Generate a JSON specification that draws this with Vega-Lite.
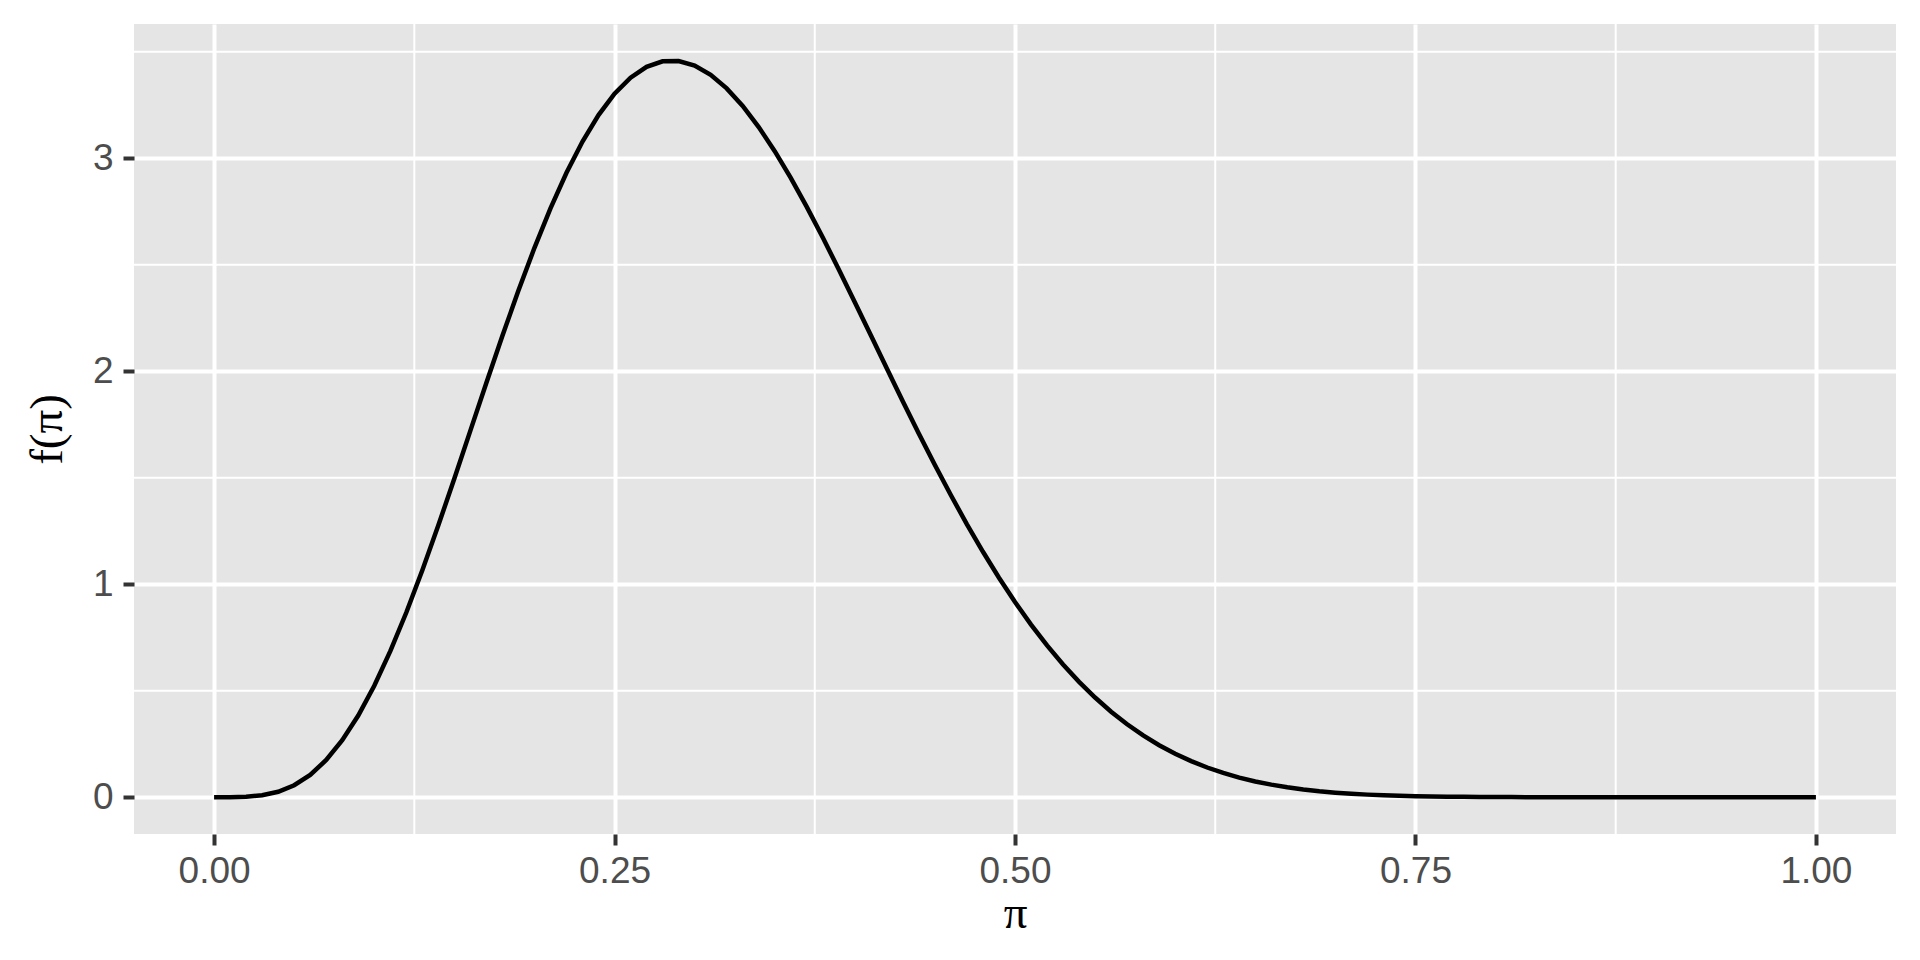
{
  "$schema": "https://vega.github.io/schema/vega-lite/v6.json",
  "width": 1762,
  "height": 810,
  "autosize": "none",
  "padding": {"left": 134, "top": 24, "right": 24, "bottom": 126},
  "background": "white",
  "config": {
    "view": {"fill": "#E5E5E5", "stroke": null},
    "axis": {
      "domain": false,
      "grid": true,
      "gridColor": "white",
      "gridWidth": 4,
      "tickColor": "#333333",
      "tickWidth": 4,
      "tickSize": 11,
      "labelFont": "Liberation Sans",
      "labelFontSize": 37,
      "labelColor": "#4D4D4D",
      "titleFont": "Liberation Serif",
      "titleFontSize": 47,
      "titleFontWeight": "normal",
      "titleColor": "black"
    }
  },
  "datasets": {
    "minor_x": [{"v": 0.125}, {"v": 0.375}, {"v": 0.625}, {"v": 0.875}],
    "minor_y": [{"v": 0.5}, {"v": 1.5}, {"v": 2.5}, {"v": 3.5}],
    "density": [
      {"p": 0.00, "f": 0}, {"p": 0.01, "f": 0.0001}, {"p": 0.02, "f": 0.0020}, {"p": 0.03, "f": 0.0090},
      {"p": 0.04, "f": 0.0256}, {"p": 0.05, "f": 0.0562}, {"p": 0.06, "f": 0.1048}, {"p": 0.07, "f": 0.1745},
      {"p": 0.08, "f": 0.2672}, {"p": 0.09, "f": 0.3836}, {"p": 0.10, "f": 0.5235}, {"p": 0.11, "f": 0.6855},
      {"p": 0.12, "f": 0.8671}, {"p": 0.13, "f": 1.0653}, {"p": 0.14, "f": 1.2765}, {"p": 0.15, "f": 1.4965},
      {"p": 0.16, "f": 1.7211}, {"p": 0.17, "f": 1.9458}, {"p": 0.18, "f": 2.1665}, {"p": 0.19, "f": 2.3790},
      {"p": 0.20, "f": 2.5796}, {"p": 0.21, "f": 2.7649}, {"p": 0.22, "f": 2.9320}, {"p": 0.23, "f": 3.0785},
      {"p": 0.24, "f": 3.2027}, {"p": 0.25, "f": 3.3030}, {"p": 0.26, "f": 3.3787}, {"p": 0.27, "f": 3.4294},
      {"p": 0.28, "f": 3.4553}, {"p": 0.29, "f": 3.4570}, {"p": 0.30, "f": 3.4356}, {"p": 0.31, "f": 3.3921},
      {"p": 0.32, "f": 3.3282}, {"p": 0.33, "f": 3.2458}, {"p": 0.34, "f": 3.1468}, {"p": 0.35, "f": 3.0335},
      {"p": 0.36, "f": 2.9076}, {"p": 0.37, "f": 2.7717}, {"p": 0.38, "f": 2.6277}, {"p": 0.39, "f": 2.4779},
      {"p": 0.40, "f": 2.3242}, {"p": 0.41, "f": 2.1686}, {"p": 0.42, "f": 2.0128}, {"p": 0.43, "f": 1.8584},
      {"p": 0.44, "f": 1.7069}, {"p": 0.45, "f": 1.5596}, {"p": 0.46, "f": 1.4175}, {"p": 0.47, "f": 1.2814},
      {"p": 0.48, "f": 1.1522}, {"p": 0.49, "f": 1.0305}, {"p": 0.50, "f": 0.9164}, {"p": 0.51, "f": 0.8105},
      {"p": 0.52, "f": 0.7128}, {"p": 0.53, "f": 0.6232}, {"p": 0.54, "f": 0.5416}, {"p": 0.55, "f": 0.4679},
      {"p": 0.56, "f": 0.4016}, {"p": 0.57, "f": 0.3425}, {"p": 0.58, "f": 0.2902}, {"p": 0.59, "f": 0.2442},
      {"p": 0.60, "f": 0.2041}, {"p": 0.61, "f": 0.1692}, {"p": 0.62, "f": 0.1393}, {"p": 0.63, "f": 0.1137},
      {"p": 0.64, "f": 0.0921}, {"p": 0.65, "f": 0.0739}, {"p": 0.66, "f": 0.0588}, {"p": 0.67, "f": 0.0463},
      {"p": 0.68, "f": 0.0362}, {"p": 0.69, "f": 0.0279}, {"p": 0.70, "f": 0.0213}, {"p": 0.71, "f": 0.0161},
      {"p": 0.72, "f": 0.0120}, {"p": 0.73, "f": 0.0088}, {"p": 0.74, "f": 0.0064}, {"p": 0.75, "f": 0.0045},
      {"p": 0.76, "f": 0.0032}, {"p": 0.77, "f": 0.0022}, {"p": 0.78, "f": 0.0015}, {"p": 0.79, "f": 0.0010},
      {"p": 0.80, "f": 0.0006}, {"p": 0.81, "f": 0.0004}, {"p": 0.82, "f": 0.0002}, {"p": 0.83, "f": 0.0001},
      {"p": 0.84, "f": 0.0001}, {"p": 0.85, "f": 0.00005}, {"p": 0.86, "f": 0.00002}, {"p": 0.87, "f": 0.00001},
      {"p": 0.88, "f": 0}, {"p": 0.89, "f": 0}, {"p": 0.90, "f": 0}, {"p": 0.91, "f": 0},
      {"p": 0.92, "f": 0}, {"p": 0.93, "f": 0}, {"p": 0.94, "f": 0}, {"p": 0.95, "f": 0},
      {"p": 0.96, "f": 0}, {"p": 0.97, "f": 0}, {"p": 0.98, "f": 0}, {"p": 0.99, "f": 0},
      {"p": 1.00, "f": 0}
    ]
  },
  "layer": [
    {
      "data": {"name": "minor_x"},
      "mark": {"type": "rule", "color": "white", "strokeWidth": 2},
      "encoding": {
        "x": {
          "field": "v", "type": "quantitative", "title": "π",
          "scale": {"domain": [-0.05, 1.05], "nice": false, "zero": false},
          "axis": {"values": [0, 0.25, 0.5, 0.75, 1], "format": ".2f", "labelPadding": 8, "titlePadding": 1, "labelFlush": false}
        }
      }
    },
    {
      "data": {"name": "minor_y"},
      "mark": {"type": "rule", "color": "white", "strokeWidth": 2},
      "encoding": {
        "y": {
          "field": "v", "type": "quantitative", "title": "f(π)",
          "scale": {"domain": [-0.1729, 3.6306], "nice": false, "zero": false},
          "axis": {"values": [0, 1, 2, 3], "labelPadding": 10, "titlePadding": 21}
        }
      }
    },
    {
      "data": {"name": "density"},
      "mark": {"type": "line", "color": "black", "strokeWidth": 4.5, "clip": true},
      "encoding": {
        "x": {
          "field": "p", "type": "quantitative", "title": "π",
          "scale": {"domain": [-0.05, 1.05], "nice": false, "zero": false},
          "axis": {"values": [0, 0.25, 0.5, 0.75, 1], "format": ".2f", "labelPadding": 8, "titlePadding": 1, "labelFlush": false}
        },
        "y": {
          "field": "f", "type": "quantitative", "title": "f(π)",
          "scale": {"domain": [-0.1729, 3.6306], "nice": false, "zero": false},
          "axis": {"values": [0, 1, 2, 3], "labelPadding": 10, "titlePadding": 21}
        }
      }
    }
  ]
}
